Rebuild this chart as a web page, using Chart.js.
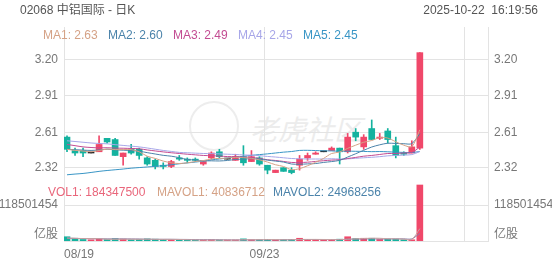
<!DOCTYPE html>
<html>
<head>
<meta charset="utf-8">
<script src="https://cdn.jsdelivr.net/npm/chart.js@4.4.1/dist/chart.umd.min.js"></script>
<style>
  body { margin: 0; background: #fff; }
  #wrap { position: relative; width: 552px; height: 265px; overflow: hidden;
          font-family: "Liberation Sans", Arial, "Noto Sans CJK SC", sans-serif; }
  #wrap canvas { position: absolute; left: 0; top: 0; }
  .t { position: absolute; font-size: 12px; line-height: 14px; white-space: nowrap; }
  .wm { position: absolute; color: #ececec; font-size: 28px; font-style: italic; left: 250px; top: 108px; }
  .wm-ring { position: absolute; left: 189px; top: 101px; width: 46px; height: 46px;
             border: 2px solid #ededed; border-radius: 50%; }
</style>
</head>
<body>
<div id="wrap">
  <div class="wm-ring"></div>
  <div class="wm">老虎社区</div>
  <canvas id="kline" width="552" height="265"></canvas>
  <div class="t" style="left:20px;top:3px;color:#555;">02068 中铝国际 - 日K</div>
  <div class="t" style="right:14px;top:3px;color:#555;">2025-10-22&nbsp;&nbsp;16:19:56</div>
  <div id="maLegend"></div>
  <div id="volLegend"></div>
</div>
<script>
// trading days shown (08/19 .. 10/22)
const dates = ['08/19','08/20','08/21','08/22','08/25','08/26','08/27','08/28','08/29',
  '09/01','09/02','09/03','09/04','09/05','09/08','09/09','09/10','09/11','09/12',
  '09/15','09/16','09/17','09/18','09/19','09/22','09/23','09/24','09/25','09/26',
  '09/29','09/30','10/02','10/03','10/06','10/08','10/09','10/10','10/13','10/14',
  '10/15','10/16','10/17','10/20','10/21','10/22'];

const open  = [2.57,2.46,2.46,2.44,2.45,2.56,2.55,2.41,2.47,2.47, 2.40,2.38,2.34,2.33,2.40,2.39,2.39,2.35,2.40,2.45,
               2.39,2.38,2.41,2.37,2.40,2.34,2.28,2.32,2.30,2.34, 2.40,2.43,2.45,2.46,2.48,2.45,2.61,2.49,2.64,2.56,
               2.62,2.50,2.44,2.44,2.48];
const high  = [2.58,2.48,2.48,2.44,2.58,2.56,2.56,2.44,2.51,2.48, 2.41,2.39,2.36,2.38,2.42,2.40,2.40,2.37,2.45,2.47,
               2.39,2.43,2.50,2.46,2.41,2.34,2.30,2.32,2.32,2.42, 2.44,2.45,2.45,2.49,2.48,2.60,2.64,2.59,2.71,2.60,
               2.64,2.57,2.45,2.54,3.26];
const low   = [2.45,2.42,2.41,2.44,2.45,2.52,2.42,2.34,2.43,2.39, 2.34,2.31,2.31,2.32,2.38,2.36,2.37,2.34,2.39,2.40,
               2.39,2.38,2.34,2.37,2.34,2.27,2.28,2.29,2.27,2.30, 2.38,2.43,2.45,2.46,2.35,2.44,2.54,2.47,2.55,2.55,
               2.52,2.40,2.42,2.44,2.47];
const close = [2.47,2.44,2.44,2.44,2.51,2.53,2.42,2.44,2.44,2.42, 2.35,2.33,2.33,2.37,2.39,2.38,2.38,2.37,2.44,2.41,
               2.39,2.41,2.36,2.41,2.35,2.30,2.30,2.29,2.28,2.39, 2.42,2.44,2.45,2.48,2.45,2.57,2.57,2.57,2.55,2.57,
               2.55,2.42,2.43,2.49,3.26];

// moving average lines
const ma1 = [2.47,2.462,2.456,2.45,2.46,2.472,2.468,2.468,2.468,2.45, 2.414,2.396,2.374,2.36,2.354,2.36,2.37,2.378,2.392,2.396,
             2.398,2.404,2.402,2.396,2.384,2.366,2.344,2.33,2.304,2.312, 2.336,2.364,2.396,2.436,2.448,2.478,2.504,2.528,2.542,2.566,
             2.562,2.532,2.504,2.492,2.63];
const ma2 = [2.47,2.467,2.464,2.461,2.465,2.471,2.466,2.463,2.46,2.455, 2.443,2.432,2.421,2.414,2.402,2.387,2.383,2.376,2.376,2.375,
             2.379,2.387,2.39,2.394,2.39,2.382,2.374,2.366,2.35,2.348, 2.351,2.354,2.363,2.37,2.38,2.407,2.434,2.462,2.489,2.507,
             2.52,2.518,2.516,2.517,2.598];
const ma3 = [2.51,2.50,2.49,2.485,2.482,2.483,2.48,2.479,2.477,2.475, 2.465,2.457,2.449,2.442,2.436,2.43,2.425,2.42,2.418,2.415,
             2.411,2.41,2.406,2.404,2.396,2.385,2.379,2.371,2.363,2.362, 2.365,2.371,2.377,2.382,2.385,2.395,2.404,2.414,2.42,2.428,
             2.436,2.436,2.44,2.444,2.489];
const ma4 = [2.54,2.534,2.528,2.522,2.518,2.515,2.508,2.502,2.496,2.49, 2.481,2.471,2.461,2.453,2.445,2.442,2.439,2.436,2.435,2.433,
             2.43,2.428,2.424,2.422,2.418,2.412,2.407,2.401,2.395,2.393, 2.391,2.391,2.391,2.393,2.391,2.392,2.397,2.401,2.405,2.41,
             2.417,2.42,2.423,2.427,2.452];
const ma5 = [2.262,2.268,2.273,2.281,2.29,2.297,2.303,2.309,2.316,2.321, 2.326,2.331,2.337,2.344,2.352,2.359,2.366,2.374,2.384,2.391,
             2.399,2.407,2.413,2.421,2.427,2.433,2.44,2.447,2.452,2.461, 2.462,2.46,2.458,2.457,2.454,2.455,2.454,2.453,2.451,2.452,
             2.45,2.447,2.445,2.444,2.452];

// volume (shares) and its averages
const vol = [14e6,9e6,5e6,4e6,6e6,5e6,8e6,6e6,4e6,5e6, 7e6,6e6,5e6,4e6,3e6,3e6,3e6,3e6,4e6,3e6,
             3e6,3e6,7e6,4e6,4e6,5e6,3e6,4e6,5e6,9e6, 5e6,3e6,3e6,4e6,6e6,14e6,8e6,9e6,9e6,5e6,
             6e6,6e6,4e6,4e6,184347500];
const mavol1 = [10e6,9e6,8e6,8e6,7.6e6,5.8e6,5.6e6,5.8e6,5.8e6,5.6e6, 6e6,5.6e6,5.4e6,5.4e6,5e6,4.2e6,3.6e6,3.2e6,3.2e6,3.2e6,
                3.2e6,3.2e6,4e6,4e6,4.2e6,4.6e6,4.6e6,4e6,4.2e6,5.2e6, 5.2e6,5.2e6,5e6,4.8e6,4.2e6,6e6,7e6,8.2e6,9.2e6,9e6,
                7.4e6,7e6,6e6,5e6,40836712];
const mavol2 = [9e6,8.5e6,8e6,7.5e6,7.5e6,7e6,7e6,7e6,6.8e6,6.6e6, 5.9e6,5.6e6,5.6e6,5.6e6,5.3e6,5.1e6,4.6e6,4.3e6,4.3e6,4.1e6,
                3.7e6,3.4e6,3.6e6,3.6e6,3.7e6,3.9e6,3.9e6,4e6,4.1e6,4.7e6, 4.9e6,4.9e6,4.5e6,4.5e6,4.7e6,5.6e6,6.1e6,6.6e6,7e6,6.6e6,
                6.7e6,7e6,7.1e6,7.1e6,24968256];

// axis ticks
const priceTicks = [2.32, 2.61, 2.91, 3.20];
const volTicks = [118501454];
const volUnit = '亿股';
const xTickIdx = [0, 25, 50];

const maNames = ['MA1','MA2','MA3','MA4','MA5'];
const maColors = ['#d5a286','#4b83aa','#c34c92','#a7a6e8','#3895c5'];

const RED = '#f0486a', GREEN = '#14b29f', DOJI = '#222';
const GRID = '#e3e3e3';
const X_MIN = -0.375, X_MAX = 52.5;
const UNIT_TICK = 19750000;

const idx = close.map((_, i) => i);
const candleColor = i => close[i] > open[i] ? RED : (close[i] < open[i] ? GREEN : DOJI);
const volColor = i => close[i] >= open[i] ? RED : GREEN;

// legends (text)
const maLegend = document.getElementById('maLegend');
const maSeries = [ma1, ma2, ma3, ma4, ma5];
const maLeft = [43, 108, 173, 238, 303];
maNames.forEach((n, k) => {
  const s = document.createElement('div');
  s.className = 't';
  s.style.left = maLeft[k] + 'px';
  s.style.top = '28px';
  s.style.color = maColors[k];
  s.textContent = n + ': ' + maSeries[k][maSeries[k].length - 1].toFixed(2);
  maLegend.appendChild(s);
});
const volLegend = document.getElementById('volLegend');
[['VOL1: ' + vol[vol.length - 1], '#e9667b', 48],
 ['MAVOL1: ' + mavol1[mavol1.length - 1], '#d5a286', 157],
 ['MAVOL2: ' + mavol2[mavol2.length - 1], '#4b83aa', 273]].forEach(([txt, c, l]) => {
  const s = document.createElement('div');
  s.className = 't';
  s.style.left = l + 'px';
  s.style.top = '185px';
  s.style.color = c;
  s.textContent = txt;
  volLegend.appendChild(s);
});

Chart.defaults.font.family = '"Liberation Sans", Arial, "Noto Sans CJK SC", sans-serif';
Chart.defaults.font.size = 12;
Chart.defaults.color = '#777';

const lineSet = (data, color, axis) => ({
  type: 'line',
  data: idx.map(i => ({ x: i, y: data[i] })),
  borderColor: color,
  borderWidth: 1,
  pointRadius: 0,
  tension: 0.3,
  yAxisID: axis,
  order: 0
});

const fixWidth = s => { s.width = 64; };
const priceTickSetup = s => { s.ticks = priceTicks.map(v => ({ value: v })); };
const volTickSetup = s => { s.ticks = [{ value: UNIT_TICK }].concat(volTicks.map(v => ({ value: v }))); };
const volLabel = v => v === UNIT_TICK ? volUnit : String(v);

const PRICE_MIN = 2.2358, PRICE_MAX = 3.4695;
const VOL_MAX = 207390937;

new Chart(document.getElementById('kline'), {
  type: 'bar',
  data: {
    datasets: [
      // wicks
      {
        data: idx.map(i => ({ x: i, y: [low[i], high[i]] })),
        backgroundColor: idx.map(candleColor),
        barThickness: 1, grouped: false, yAxisID: 'y', order: 2
      },
      // bodies
      {
        data: idx.map(i => ({ x: i, y: [open[i], close[i]] })),
        backgroundColor: idx.map(candleColor),
        barThickness: 6, minBarLength: 1, grouped: false, yAxisID: 'y', order: 1
      },
      lineSet(ma1, maColors[0], 'y'),
      lineSet(ma2, maColors[1], 'y'),
      lineSet(ma3, maColors[2], 'y'),
      lineSet(ma4, maColors[3], 'y'),
      lineSet(ma5, maColors[4], 'y'),
      // volume
      {
        data: idx.map(i => ({ x: i, y: vol[i] })),
        backgroundColor: idx.map(volColor),
        barThickness: 6, grouped: false, yAxisID: 'yv', order: 1
      },
      lineSet(mavol1, '#c9a0a0', 'yv'),
      lineSet(mavol2, '#8a7fa8', 'yv')
    ]
  },
  options: {
    responsive: false,
    animation: false,
    layout: { padding: { top: 27, left: 0, right: 0, bottom: 0 } },
    plugins: { legend: { display: false }, tooltip: { enabled: false } },
    scales: {
      x: {
        type: 'linear', min: X_MIN, max: X_MAX, offset: false,
        grid: { color: GRID, drawTicks: false, offset: false },
        border: { color: GRID },
        afterBuildTicks: s => { s.ticks = xTickIdx.map(i => ({ value: i + X_MIN })); },
        afterFit: s => { s.height = 24; },
        ticks: {
          padding: 6, align: 'inner', maxRotation: 0, autoSkip: false,
          callback: (v, k) => dates[xTickIdx[k]] || ''
        }
      },
      y: {
        position: 'left', stack: 'L', stackWeight: 151, weight: 2,
        min: PRICE_MIN, max: PRICE_MAX,
        grid: { color: GRID, drawTicks: false },
        border: { color: GRID },
        afterBuildTicks: priceTickSetup, afterFit: fixWidth,
        ticks: { padding: 6, callback: v => v.toFixed(2) }
      },
      yv: {
        position: 'left', stack: 'L', stackWeight: 63, weight: 1,
        min: 0, max: VOL_MAX,
        grid: { color: c => c.tick && c.tick.value === UNIT_TICK ? 'rgba(0,0,0,0)' : GRID, drawTicks: false },
        border: { color: GRID },
        afterBuildTicks: volTickSetup, afterFit: fixWidth,
        ticks: { padding: 6, callback: volLabel }
      },
      y2: {
        position: 'right', stack: 'R', stackWeight: 151, weight: 1,
        min: PRICE_MIN, max: PRICE_MAX,
        grid: { display: false, drawTicks: false },
        border: { color: GRID },
        afterBuildTicks: priceTickSetup, afterFit: fixWidth,
        ticks: { padding: 6, callback: v => v.toFixed(2) }
      },
      yv2: {
        position: 'right', stack: 'R', stackWeight: 63, weight: 2,
        min: 0, max: VOL_MAX,
        grid: { display: false, drawTicks: false },
        border: { color: GRID },
        afterBuildTicks: volTickSetup, afterFit: fixWidth,
        ticks: { padding: 6, callback: volLabel }
      }
    }
  }
});
</script>
</body>
</html>
